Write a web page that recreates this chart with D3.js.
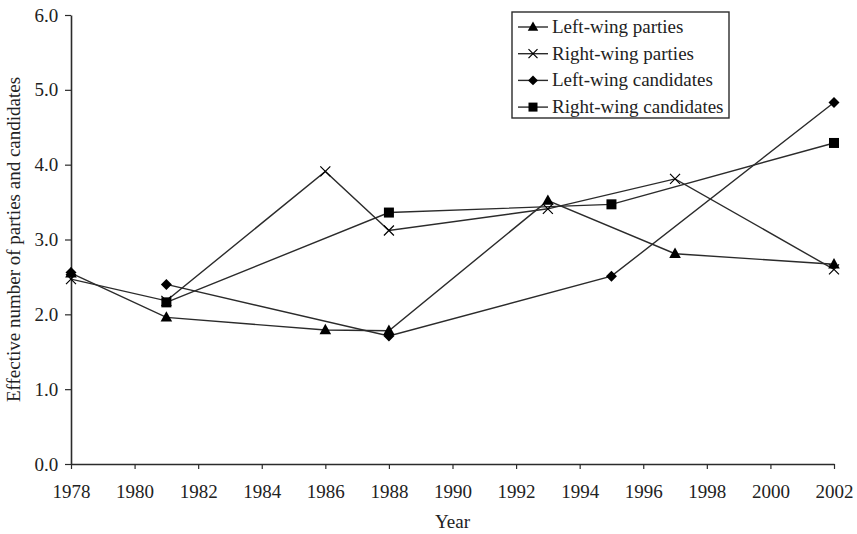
<!DOCTYPE html>
<html>
<head>
<meta charset="utf-8">
<script src="https://cdn.jsdelivr.net/npm/d3@7"></script>
<style>
  body { margin: 0; background: #fff; }
  svg { display: block; font-family: 'Liberation Serif', 'DejaVu Serif', serif; }
</style>
</head>
<body>
<svg id="chart" width="857" height="534"></svg>
<script>
// data
const yearTicks = d3.range(1978, 2003, 2);
const valueTicks = [0, 1, 2, 3, 4, 5, 6];

const leftPartyYears = [1978, 1981, 1986, 1988, 1993, 1997, 2002];
const leftPartyValues = [2.55, 1.96, 1.79, 1.78, 3.52, 2.81, 2.67];

const rightPartyYears = [1978, 1981, 1986, 1988, 1993, 1997, 2002];
const rightPartyValues = [2.47, 2.18, 3.91, 3.12, 3.41, 3.81, 2.60];

// 1978 candidate point stands alone (no line to 1981)
const leftCandYears = [1978, 1979, 1981, 1988, 1995, 2002];
const leftCandValues = [2.56, null, 2.40, 1.71, 2.51, 4.83];

const rightCandYears = [1981, 1988, 1995, 2002];
const rightCandValues = [2.16, 3.36, 3.47, 4.29];

const seriesNames = ['Left-wing parties', 'Right-wing parties', 'Left-wing candidates', 'Right-wing candidates'];
const seriesMarks = ['triangle', 'cross', 'diamond', 'square'];

const series = [
  [leftPartyYears, leftPartyValues],
  [rightPartyYears, rightPartyValues],
  [leftCandYears, leftCandValues],
  [rightCandYears, rightCandValues]
].map((s, i) => ({
  name: seriesNames[i],
  mark: seriesMarks[i],
  points: s[0].map((yr, j) => ({ year: yr, value: s[1][j] }))
}));

const ink = '#2b2b2b';
const svg = d3.select('#chart');

const x = d3.scaleLinear().domain([1978, 2002]).range([71, 834]);
const y = d3.scaleLinear().domain([0, 6]).range([464, 15]);

// axes
const xAxis = svg.append('g')
  .attr('transform', `translate(0,${y(0)})`)
  .call(d3.axisBottom(x).tickValues(yearTicks).tickFormat(d3.format('d')).tickSize(5).tickSizeOuter(0));

const yAxis = svg.append('g')
  .attr('transform', `translate(${x(1978)},0)`)
  .call(d3.axisLeft(y).tickValues(valueTicks).tickFormat(d3.format('.1f')).tickSize(6).tickSizeOuter(0));

[xAxis, yAxis].forEach(a => {
  a.select('.domain').attr('stroke', ink).attr('stroke-width', 1.6);
  a.selectAll('.tick line').attr('stroke', ink).attr('stroke-width', 1.2);
  a.selectAll('.tick text')
    .attr('fill', '#222')
    .style('font-family', "'Liberation Serif', serif")
    .style('font-size', '19px');
});
xAxis.selectAll('.tick text').attr('dy', '1.37em');
yAxis.selectAll('.tick text').attr('dx', '-0.2em');

svg.append('text')
  .attr('x', (x(1978) + x(2002)) / 2)
  .attr('y', 528)
  .attr('text-anchor', 'middle')
  .attr('fill', '#222')
  .style('font-size', '19px')
  .text('Year');

svg.append('text')
  .attr('transform', `translate(20,${y(3)}) rotate(-90)`)
  .attr('text-anchor', 'middle')
  .attr('fill', '#222')
  .style('font-size', '19px')
  .text('Effective number of parties and candidates');

// markers
const drawMark = (g, mark, cx, cy, s) => {
  if (mark === 'triangle') {
    g.append('path')
      .attr('d', `M${cx},${cy - s * 0.62}L${cx + s * 0.58},${cy + s * 0.42}L${cx - s * 0.58},${cy + s * 0.42}Z`)
      .attr('fill', '#000');
  } else if (mark === 'square') {
    g.append('rect')
      .attr('x', cx - s / 2).attr('y', cy - s / 2)
      .attr('width', s).attr('height', s)
      .attr('fill', '#000');
  } else if (mark === 'diamond') {
    const r = s * 0.55;
    g.append('path')
      .attr('d', `M${cx},${cy - r}L${cx + r},${cy}L${cx},${cy + r}L${cx - r},${cy}Z`)
      .attr('fill', '#000');
  } else {
    const r = s * 0.5;
    g.append('path')
      .attr('d', `M${cx - r},${cy - r}L${cx + r},${cy + r}M${cx + r},${cy - r}L${cx - r},${cy + r}`)
      .attr('stroke', '#000').attr('stroke-width', 1.2).attr('fill', 'none');
  }
};

const line = d3.line()
  .defined(d => d.value !== null)
  .x(d => x(d.year))
  .y(d => y(d.value));

const plot = svg.append('g');
series.forEach(s => {
  plot.append('path')
    .datum(s.points)
    .attr('d', line)
    .attr('fill', 'none')
    .attr('stroke', ink)
    .attr('stroke-width', 1.4);
});
series.forEach(s => {
  const g = plot.append('g');
  s.points.filter(d => d.value !== null).forEach(d => {
    drawMark(g, s.mark, x(d.year), y(d.value), 10);
  });
});

// legend
const legend = svg.append('g');
legend.append('rect')
  .attr('x', 512).attr('y', 12)
  .attr('width', 217).attr('height', 106)
  .attr('fill', '#fff')
  .attr('stroke', ink)
  .attr('stroke-width', 1.4);

series.forEach((s, i) => {
  const ly = 27 + i * 26.7;
  const g = legend.append('g');
  g.append('line')
    .attr('x1', 518).attr('x2', 548)
    .attr('y1', ly).attr('y2', ly)
    .attr('stroke', ink).attr('stroke-width', 1.4);
  drawMark(g, s.mark, 533, ly, 9);
  g.append('text')
    .attr('x', 552).attr('y', ly + 6)
    .attr('fill', '#222')
    .style('font-size', '19px')
    .text(s.name);
});
</script>
</body>
</html>
